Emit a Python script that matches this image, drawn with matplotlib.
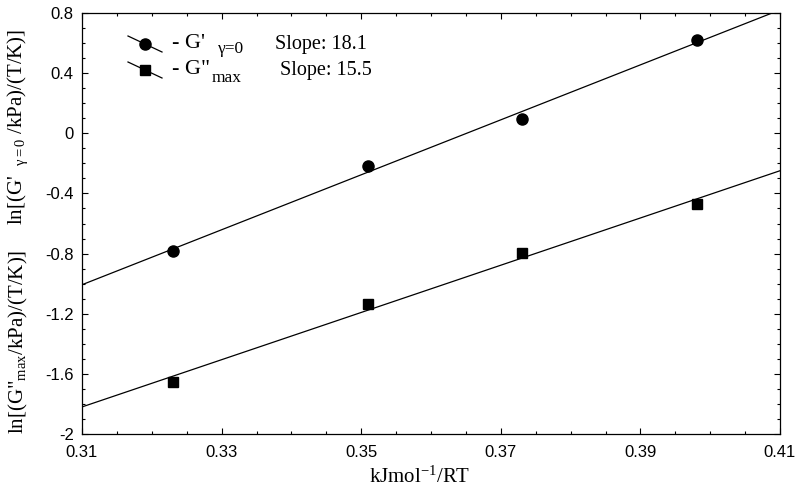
import numpy as np
import matplotlib
matplotlib.use('Agg')
import matplotlib.pyplot as plt
from matplotlib.ticker import MultipleLocator, FixedLocator, FormatStrFormatter, FuncFormatter

# data
x_inv_rt = [0.3230, 0.3510, 0.3730, 0.3981]
ln_g_prime = [-0.780, -0.215, 0.095, 0.620]
ln_g_dprime_max = [-1.651, -1.137, -0.798, -0.472]
x_ticks = [0.31, 0.33, 0.35, 0.37, 0.39, 0.41]
slope_labels = ["Slope: 18.1", "Slope: 15.5"]

plt.rcParams['font.family'] = ['Liberation Sans', 'DejaVu Sans']
plt.rcParams['mathtext.fontset'] = 'custom'
plt.rcParams['mathtext.rm'] = 'Liberation Serif'
plt.rcParams['mathtext.it'] = 'Liberation Serif:italic'
plt.rcParams['axes.unicode_minus'] = False

serif = ['Liberation Serif', 'DejaVu Serif']

fig = plt.figure(figsize=(7.99, 4.96), dpi=100)
ax = fig.add_axes([82 / 799, 1 - 434 / 496, 698 / 799, 421 / 496])

# linear fits drawn across the full x range
xx = np.array([0.31, 0.41])
for y in (ln_g_prime, ln_g_dprime_max):
    k, b = np.polyfit(x_inv_rt, y, 1)
    ax.plot(xx, k * xx + b, color='black', lw=0.9)

ax.plot(x_inv_rt, ln_g_prime, 'o', color='black', ms=8)
ax.plot(x_inv_rt, ln_g_dprime_max, 's', color='black', ms=6.5)

ax.set_xlim(0.31, 0.41)
ax.set_ylim(-2, 0.8)
ax.xaxis.set_major_locator(FixedLocator(x_ticks))
ax.xaxis.set_minor_locator(MultipleLocator(0.005))
ax.yaxis.set_major_locator(MultipleLocator(0.4))
ax.yaxis.set_minor_locator(MultipleLocator(0.1))
ax.xaxis.set_major_formatter(FormatStrFormatter('%.2f'))
ax.yaxis.set_major_formatter(FuncFormatter(lambda v, p: f"{round(v, 1):g}"))
ax.tick_params(which='both', direction='in', top=True, right=True,
               labelsize=12, width=0.8)
ax.tick_params(which='major', length=4, pad=6)
ax.tick_params(axis='x', which='major', pad=8)
ax.tick_params(which='minor', length=2)
for s in ax.spines.values():
    s.set_linewidth(0.9)

# hand-made legend: slanted line through the marker
for (cy, mk, ms) in ((44, 'o', 8), (70, 's', 6.5)):
    px = np.array([128, 145, 162]) / 799
    py = 1 - np.array([cy - 8, cy, cy + 8]) / 496
    fig.add_artist(plt.Line2D(px, py, color='black', lw=0.9))
    fig.add_artist(plt.Line2D([px[1]], [py[1]], marker=mk, ms=ms,
                              color='black', ls='none'))

fig.text(172 / 799, 1 - 44 / 496, "- G'", family=serif, fontsize=16, va='center')
fig.text(218 / 799, 1 - 49 / 496, "γ=0", family=serif, fontsize=12.5, va='center')
fig.text(172 / 799, 1 - 70 / 496, '- G"', family=serif, fontsize=16, va='center')
fig.text(212 / 799, 1 - 78 / 496, "max", family=serif, fontsize=12.5, va='center')
fig.text(275 / 799, 1 - 44 / 496, slope_labels[0], family=serif, fontsize=14.5, va='center')
fig.text(280 / 799, 1 - 70 / 496, slope_labels[1], family=serif, fontsize=14.5, va='center')

# stacked y labels
fig.text(18 / 799, 1 - 127 / 496,
         r"ln[(G'  $_{\mathrm{\gamma=0}}$ /kPa)/(T/K)]", family=serif,
         rotation=90, fontsize=15, ha='center', va='center')
fig.text(18 / 799, 1 - 342 / 496,
         r'ln[(G"$_{\mathrm{max}}$/kPa)/(T/K)]', family=serif,
         rotation=90, fontsize=15, ha='center', va='center')

fig.text(420 / 799, 1 - 477 / 496, r"kJmol$^{\mathrm{-1}}$/RT", family=serif,
         fontsize=15, ha='center', va='center')

fig.savefig('out.png', dpi=100)
